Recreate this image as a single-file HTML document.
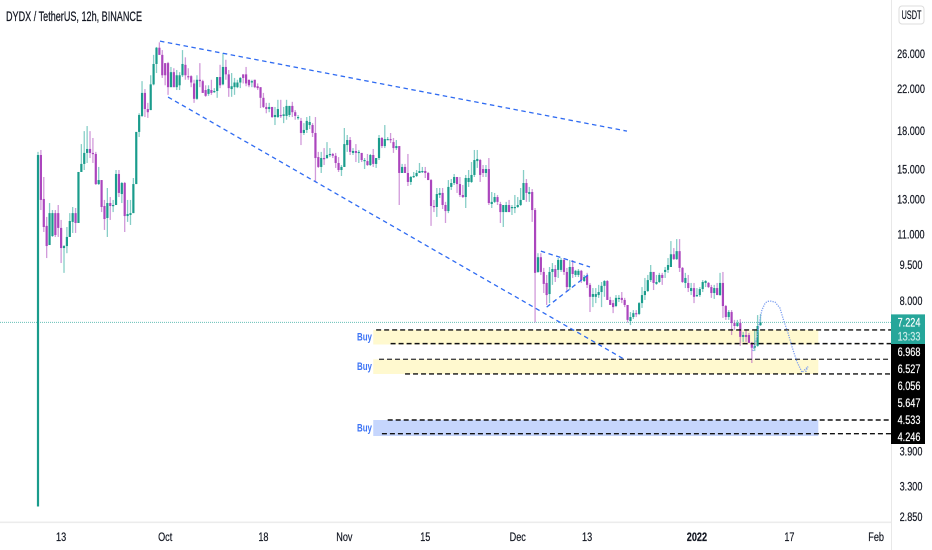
<!DOCTYPE html>
<html lang="en">
<head>
<meta charset="utf-8">
<title>DYDX / TetherUS, 12h, BINANCE</title>
<style>
html,body{margin:0;padding:0;background:#fff;width:932px;height:550px;overflow:hidden}
svg{display:block;font-family:"Liberation Sans",sans-serif}
#candles{filter:blur(0.25px)}
</style>
</head>
<body>
<svg id="chart" xmlns="http://www.w3.org/2000/svg" width="932" height="550" viewBox="0 0 932 550">
  <rect x="0" y="0" width="932" height="550" fill="#ffffff"/>
  <g id="zones"></g>
  <g id="candles"></g>
  <g id="overlays"></g>
  <rect x="891" y="0" width="1" height="550" fill="#e8e8e8"/>
  <rect x="0" y="521.5" width="891" height="1.6" fill="#ececec"/>
  <g id="price-axis"></g>
  <g id="time-axis"></g>
  <text x="6" y="21" font-size="14" fill="#131722" stroke="#131722" stroke-width="0.25" textLength="136" lengthAdjust="spacingAndGlyphs">DYDX / TetherUS, 12h, BINANCE</text>
  <g>
    <rect x="899" y="6" width="25" height="18" rx="3" fill="#ffffff" stroke="#dcdcdc"/>
    <text x="911.5" y="19" font-size="11.5" fill="#131722" stroke="#131722" stroke-width="0.2" text-anchor="middle" textLength="20" lengthAdjust="spacingAndGlyphs">USDT</text>
  </g>
</svg>
<script>
const opens = [
3,16.06,13.02,11.45,10.45,10.91,12.17,12.17,11.34,10.3,
10.4,10.86,11.67,12.17,11.61,14.81,15.39,16.22,16.53,16.22,
16.14,13.98,14.25,12.59,11.89,12.77,12.59,12.65,14.67,13.33,
14.05,12,12.06,12.17,13.98,17.93,19.35,21.6,20,19.9,
22.5,24.8,26.8,25.9,24.9,24.9,22.2,23.85,22.2,22.4,
23.5,24.7,23.4,23.4,22.6,21,23,22.85,21.9,21.5,
21.9,21.7,21.8,23.3,22.5,24.45,23.6,22,22.2,22.2,
22.7,23.6,23.6,23,22.7,23,22.3,22.2,21.1,20.2,
20,20.2,19.25,19.25,19.44,19.35,19.35,19.44,20.3,19.7,
19.17,18.9,17.84,18.1,18.53,18.53,17.84,15.9,15.17,15.83,
15.83,16.06,16.14,16,15.46,14.95,15.17,16.84,17.25,16.22,
16.37,16.22,16.22,15.6,15.6,15.31,16.06,15.39,15.83,17.42,
16.76,17.25,17.33,17.08,16.6,16.76,14.74,15.17,14.74,14.12,
14.46,14.53,14.74,14.81,14.88,14.74,14.25,12.59,12.53,13.27,
13.4,12.65,12.29,13.79,14.05,14.46,13.98,13.27,13.14,14.12,
14.12,14.6,15.6,15.68,15.02,14.74,15.02,12.71,12.84,13.14,
12.71,12.23,12.23,12.65,12.47,12.5,12.53,12.65,12.96,14.05,
13.33,13.46,12.35,9.19,9.86,9.19,8.72,8.27,9.19,9.32,
9.28,9.28,9.73,9.19,8.55,9.41,9.06,9.06,9.24,8.8,
9.02,8.64,8.16,8.16,8.23,8.35,8.6,8.8,8.04,7.92,
7.81,8.08,8.12,8.04,7.85,7.27,7.41,7.55,7.52,7.92,
8.23,8.39,8.84,9.19,8.68,8.76,9.06,9.19,9.28,9.41,
10,9.77,10.15,9.37,8.72,8.72,8.39,8.51,8.2,8.23,
8.47,8.72,8.72,8.55,8.31,8.51,8.23,8.72,7.81,7.41,
7.59,7.2,7.1,7.2,6.74,6.8,6.8,6.55,6.4,6.46,7.13];
const highs = [
16.3,16.45,14.46,11.95,12.77,12.35,12.35,12.65,11.78,10.45,
11.39,12.17,12.53,12.47,14.81,16.92,18,18.44,18,17.42,
16.3,15.17,14.25,12.96,13.72,13.14,12.96,14.95,14.95,14.12,
14.12,12.96,12.96,14.39,17.93,19.6,22.85,22,20.6,23.5,
25.9,26.9,27.5,26.5,24.9,25.05,24.45,24.3,24.1,23.85,
26.5,25.6,24.3,23.5,23,23.5,24.9,23,22.4,22.4,
23,22.1,23.3,24.7,26.1,25.3,24.1,23.75,23.2,23,
23.3,23.6,24.45,23,23,23,22.6,22.2,21.6,20.6,
20.6,20.2,20.2,20.9,20.9,20.2,20.9,20.3,20.7,19.9,
19.44,19.17,18.7,19.25,19.35,18.7,19.25,16.3,16.3,16.6,
17.08,16.6,16.22,16.22,15.9,15.31,18.27,17.67,17.5,16.6,
16.92,16.45,16.22,15.83,16.14,16.14,16.53,15.83,17.67,17.5,
18.53,17.5,17.84,17.42,17.25,16.76,15.39,15.39,16.14,14.53,
14.81,14.95,15.46,15.17,15.17,14.81,14.32,12.96,13.72,13.72,
13.72,12.84,14.25,14.32,14.67,14.46,14.46,13.92,14.6,14.95,
15.53,16.45,16.45,15.76,15.31,15.31,15.83,13.46,13.4,13.27,
12.84,12.65,12.84,12.96,12.65,13.27,13.14,13.72,14.95,14.32,
13.79,13.65,12.47,10.05,10.05,9.37,9.06,9.41,9.59,9.5,
9.82,9.82,9.82,9.37,9.73,9.73,9.28,9.32,9.28,9.06,
9.15,8.72,8.51,8.51,8.64,8.76,8.84,8.84,8.16,8.04,
8.23,8.23,8.35,8.12,7.85,7.59,7.66,7.66,7.96,8.55,
8.93,9.06,9.5,9.19,9.06,9.15,9.15,9.41,9.82,10.65,
10.3,10.75,10.75,9.41,9.15,9.06,8.72,8.72,8.51,8.55,
8.84,8.84,8.76,8.64,8.64,8.72,9.15,9.19,7.85,7.66,
7.66,7.31,7.31,7.34,6.9,6.97,6.87,6.58,6.97,7.48,7.52];
const lows = [
3,12.35,11.12,9.82,10.45,10.86,10.86,10.86,9.59,9.15,
10.05,10.86,11.07,11.07,11.61,14.81,14.95,15.46,15.83,15.46,
13.92,13.92,12.23,11.23,10.86,11.78,12.23,12.65,13.14,12.77,
11.12,11.67,11.5,12.17,13.98,17.5,19.25,19.25,19.17,19.9,
22.4,23.75,25.9,23.2,22.4,21.4,22.2,22.2,21.9,21.9,
23.3,23,23,22.2,20.6,20.9,22.2,21.6,21.2,21.3,
21.4,21.6,21.1,22.1,22.4,23,21.2,21.2,21.4,22.1,
22.1,22.6,22.3,22.2,22.2,22.1,21.9,20.1,20.1,19.6,
19.7,19.17,18.53,19.17,19.17,18.7,19,19.25,19.25,19,
19,16.84,17.67,17.84,18.18,17.5,14.12,15.1,14.74,15.31,
15.76,15.9,15.83,15.1,14.81,14.53,15.17,16.3,16.06,16.06,
15.53,15.46,15.53,15.02,15.24,15.24,15.17,15.1,15.68,16.6,
16.6,17.25,17,16.22,16.45,12.65,14.74,14.74,13.85,13.92,
14.39,14.46,14.74,14.74,14.39,14.25,11.45,12.23,11.95,13.08,
12.41,11.61,12.17,13.59,13.92,13.4,13.14,13.08,12.47,13.79,
14.05,14.46,15.1,14.12,14.46,14.46,12.65,12.47,12.77,12.65,
11.61,11.39,12.23,12.23,12.06,12.17,12.47,12.59,12.96,12.84,
12.84,11.67,7.224,9.15,9.06,8.31,7.85,7.92,8.64,8.76,
8.93,9.19,9.06,8.35,8.43,8.93,8.97,8.97,8.72,8.76,
8.51,7.59,7.77,7.92,8.12,7.77,8.16,8.04,7.85,7.55,
7.77,7.96,7.92,7.77,7.22,7.13,7.34,7.41,7.48,7.74,
8.04,8.35,8.76,8.43,8.64,8.72,8.64,8.93,9.15,9.41,
9.73,9.73,9.19,8.72,8.51,8.35,8.23,7.92,8.16,8.16,
8.35,8.55,8.51,8.12,8.08,8.23,8.2,7.38,7.31,7.31,
6.8,6.97,7.07,6.46,6.58,6.58,6.55,5.95,6.3,6.43,7.1];
const closes = [
16.06,12.96,11.39,10.4,12.17,12.17,10.96,11.34,10.3,10.4,
10.86,11.72,12.17,11.61,14.81,15.39,16.22,16.53,16.22,16.14,
13.98,14.25,12.53,11.83,12.77,12.59,12.65,14.67,13.4,14.05,
12,12.12,12.17,13.98,17.93,19.44,21.6,20,19.7,22.5,
24.8,26.8,25.9,23.5,23.5,22.2,23.85,22.2,23.5,23.5,
24.8,23.5,23.3,22.7,21,23,22.85,21.6,21.3,22,
21.6,21.8,23.3,22.4,24.45,23.6,22.1,22.3,22.7,22.7,
23.2,23.2,22.6,22.4,22.85,22.2,22.1,21.1,20.2,20,
20.2,19.25,19.44,20,19.35,19.5,20.3,20.3,19.7,19.35,
19.25,17.84,18.1,18.9,18.8,17.84,15.83,15.17,15.83,15.76,
16.06,16.14,16,15.46,14.95,15.17,16.92,17.25,16.3,16.37,
16.22,16.3,15.68,15.68,15.31,16.06,15.39,15.83,17.42,16.76,
17.33,17.33,17.25,16.6,16.76,14.74,15.17,14.74,14.12,14.46,
14.53,14.74,14.88,14.88,14.74,14.25,12.59,12.53,13.33,13.4,
12.65,12.29,13.79,14.05,14.46,13.98,13.27,13.14,14.39,14.39,
14.6,15.68,15.76,14.6,14.74,15.02,12.77,12.84,13.14,12.84,
12.23,12.65,12.65,12.23,12.53,12.53,12.65,12.96,14.05,13.4,
13.46,12.35,9.15,9.86,9.19,8.68,8.23,9.19,9.32,8.97,
9.73,9.73,9.19,8.55,9.41,9.1,9.24,9.24,8.84,8.97,
8.64,8.16,8.27,8.27,8.35,8.6,8.8,8.04,7.85,7.77,
8.12,8.12,8.04,7.85,7.31,7.41,7.55,7.52,7.92,8.23,
8.39,8.84,9.19,8.72,8.76,9.06,8.93,9.28,9.5,10,
9.77,10.15,9.37,8.76,8.93,8.51,8.51,8.16,8.23,8.47,
8.76,8.8,8.55,8.31,8.51,8.23,8.72,7.81,7.41,7.59,
7.2,7.1,7.2,6.74,6.8,6.74,6.55,6.4,6.46,7.1,7.224];

const priceTicks = ["26.000","22.000","18.000","15.000","13.000","11.000","9.500","8.000","3.900","3.300","2.850"];
const timeTickLabels = ["13","Oct","18","Nov","15","Dec","13","2022","17","Feb"];
const timeTickCandles = [8,44,78,106,134,166,190,228,260,290];
const lastPrice = 7.224;
const countdown = "13:33";
const levelPrices = [6.968,6.527,6.056,5.647,4.533,4.246];
const levelLabels = ["6.968","6.527","6.056","5.647","4.533","4.246"];
const levelStartCandles = [117,122,118,127,121,119];
const zoneTop = [6.968,6.056,4.533];
const zoneBottom = [6.5,5.647,4.2];
const zoneColors = ["#fff9cf","#fff9cf","#c6d6fd"];
const zoneStartCandle = 116;
const zoneEndCandle = 270;
const trendStartCandle = [42.2,45,174,176];
const trendStartPrice = [27.66,21.18,10.15,7.77];
const trendEndCandle = [203.8,202.4,191,190.3];
const trendEndPrice = [18,6.08,9.41,9.06];
const arcCandles = [247.4,248,248.8,249.6,250.5,251.6,252.4,253.3,255,256.7,258,259.5,261,262.6,264.4,266.4,265.5];
const arcPrices = [6.3,6.5,6.74,7.2,7.66,7.92,7.98,8,7.96,7.74,7.3,6.87,6.4,5.99,5.69,5.85,5.68];

function xScale(i){ return 38 + 2.89 * i; }
function yScale(p){ return 301 - 209.5 * Math.log(p / 8); }

const NS = "http://www.w3.org/2000/svg";
function make(tag, parent, attrs){
  const el = document.createElementNS(NS, tag);
  for (const k in attrs) el.setAttribute(k, attrs[k]);
  parent.appendChild(el);
  return el;
}
const zonesG = document.getElementById("zones");
const candlesG = document.getElementById("candles");
const overlaysG = document.getElementById("overlays");
const priceAxisG = document.getElementById("price-axis");
const timeAxisG = document.getElementById("time-axis");

/* buy zones */
zoneTop.forEach(function(top, k){
  const y0 = yScale(top), y1 = yScale(zoneBottom[k]);
  const r = make("rect", zonesG, {x:xScale(zoneStartCandle), y:y0, width:xScale(zoneEndCandle)-xScale(zoneStartCandle), height:y1-y0, fill:zoneColors[k]});
  
  
  const t = make("text", zonesG, {transform:"translate(357,"+((y0+y1)/2+3.5)+") scale(0.72,1)", "font-size":"11", "font-weight":"bold", fill:"#3d74f5"});
  t.textContent = "Buy";
  
  
});

/* last price line */
const lastLine = make("line", zonesG, {x1:0, x2:891, y1:yScale(lastPrice), y2:yScale(lastPrice), stroke:"#26a69a", "stroke-width":1.1, "stroke-dasharray":"1 1", opacity:0.7});



/* candles */
opens.forEach(function(o, i){
  const c = closes[i], up = c >= o;
  const x = xScale(i);
  const wick = make("line", candlesG, {x1:x, x2:x, y1:yScale(highs[i]), y2:yScale(lows[i]), stroke:up?"#26a69a":"#ab47bc", "stroke-width":1.3, opacity:0.55});
  
  
  const top = yScale(Math.max(o, c)), bot = yScale(Math.min(o, c));
  const body = make("rect", candlesG, {x:x-1.1, y:top, width:2.2, height:Math.max(bot-top, 1.2), fill:up?"#1a9c8c":"#ab45bd"});
  
  
});

/* level dashed lines */
levelPrices.forEach(function(p, k){
  const l = make("line", overlaysG, {x1:xScale(levelStartCandles[k]), x2:891, y1:yScale(p), y2:yScale(p), stroke:k===2?"#444":"#111", "stroke-width":1.4, "stroke-dasharray":"5 3"});
  
  
});

/* trend lines */
trendStartCandle.forEach(function(c0, k){
  const l = make("line", overlaysG, {x1:xScale(c0), y1:yScale(trendStartPrice[k]), x2:xScale(trendEndCandle[k]), y2:yScale(trendEndPrice[k]), stroke:"#2f6bf2", "stroke-width":1.3, "stroke-dasharray":"4.5 3.5"});
  
  
});

/* projected path */
const arcPts = arcCandles.map(function(c, k){ return xScale(c).toFixed(1)+","+yScale(arcPrices[k]).toFixed(1); }).join(" ");
const arc = make("polyline", overlaysG, {points:arcPts, fill:"none", stroke:"#7d9ff0", "stroke-width":1.3, "stroke-dasharray":"1.2 1.2"});



/* price axis */
function axisText(parent, x, y, txt, fill, sx, bold){
  const t = make("text", parent, {transform:"translate("+x+","+y+") scale("+sx+",1)", "font-size":"12", fill:fill, stroke:fill, "stroke-width":0.2, "text-anchor":"middle", "font-weight":bold?"bold":"normal"});
  t.textContent = txt;
  return t;
}
priceTicks.forEach(function(s){
  const t = axisText(priceAxisG, 911, yScale(parseFloat(s))+4, s, "#131722", 0.76, false);
  
  
});

const lastBox = make("rect", priceAxisG, {x:891, y:yScale(lastPrice)-8, width:34, height:30, fill:"#26a69a"});


const lastLabel = axisText(priceAxisG, 909, yScale(lastPrice)+4, lastPrice.toFixed(3), "#ffffff", 0.76, false);


const cdLabel = axisText(priceAxisG, 909, yScale(lastPrice)+18, countdown, "#c9ece8", 0.76, false);



const blackBox = make("rect", priceAxisG, {x:891, y:344, width:34, height:100, fill:"#000000"});


let prevY = 335;
levelPrices.forEach(function(p, k){
  const cy = Math.max(prevY + 17, yScale(p));
  prevY = cy;
  const t = axisText(priceAxisG, 909, cy + 4, levelLabels[k], "#ffffff", 0.76, false);
  
  
});

/* time axis */
timeTickLabels.forEach(function(s, k){
  const isYear = s === "2022";
  const t = axisText(timeAxisG, xScale(timeTickCandles[k]), 541, s, "#131722", 0.76, isYear);
  
  
});
</script>
</body>
</html>
